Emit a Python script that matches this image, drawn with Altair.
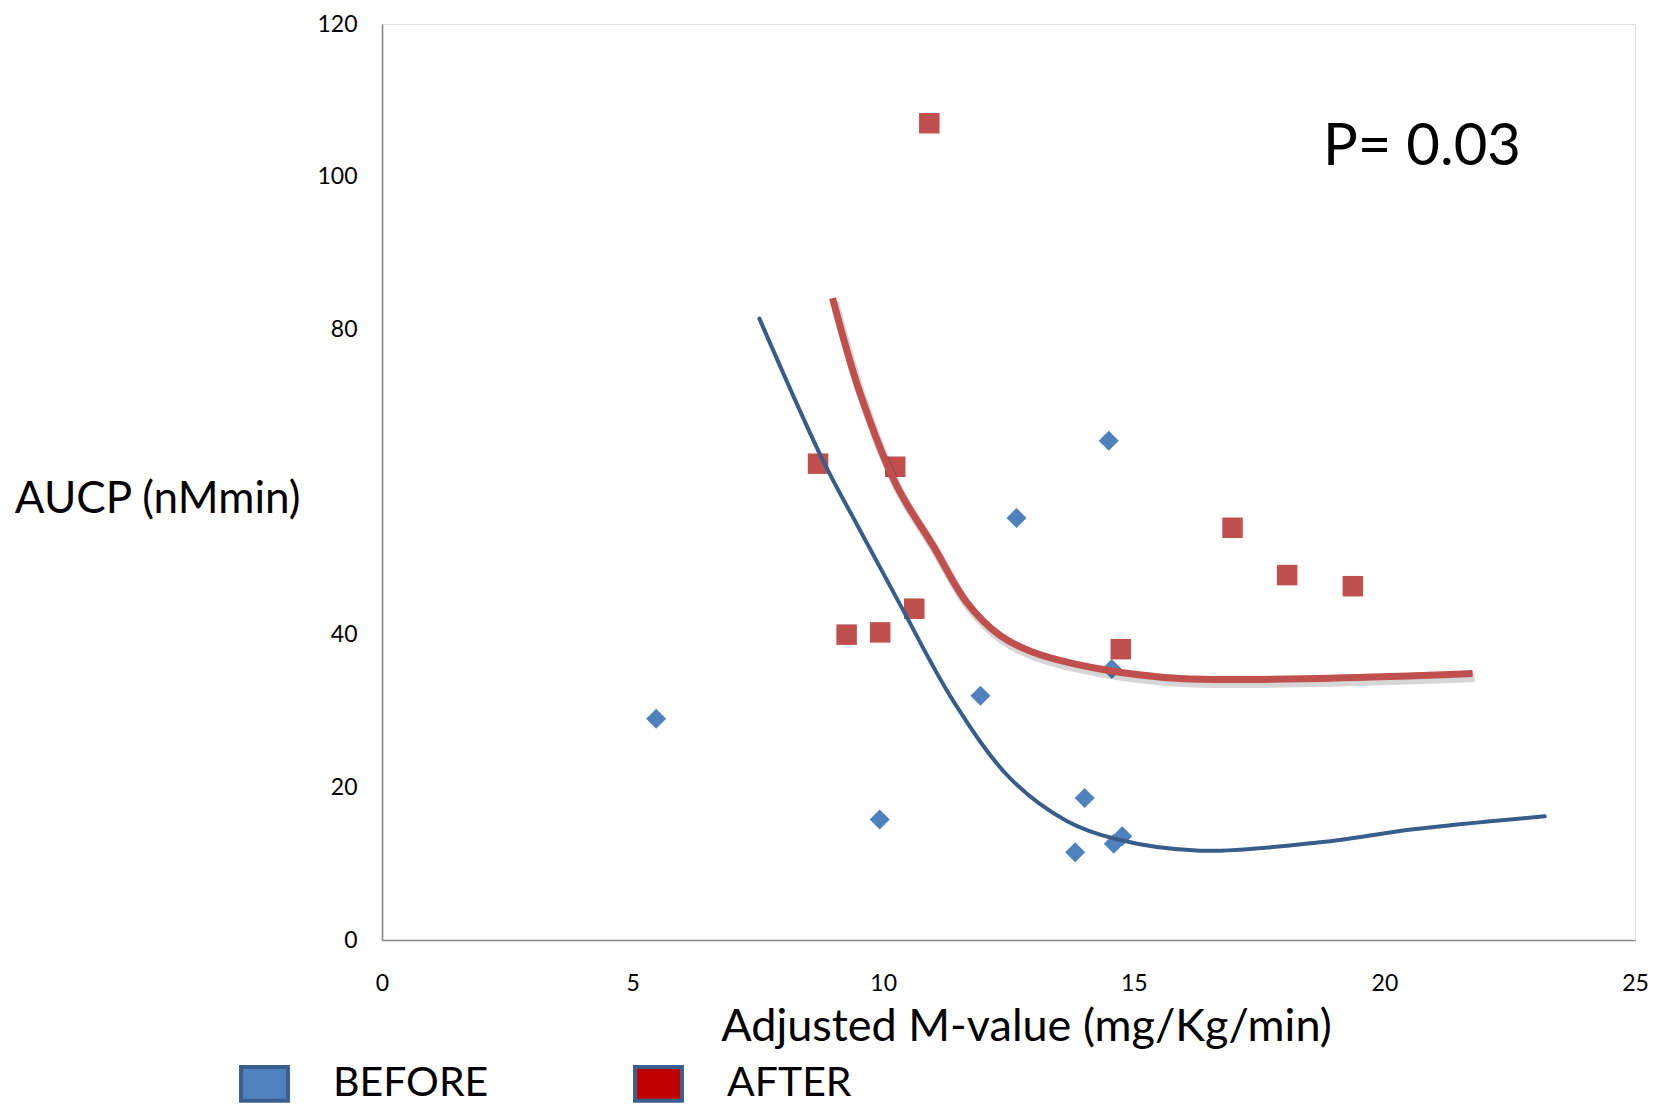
import altair as alt
import pandas as pd

# --- data ---
before_x = [5.47, 9.93, 11.94, 12.66, 14.50, 14.56, 14.02, 13.83, 14.60, 14.77]
before_y = [29.0, 15.8, 32.0, 55.3, 65.4, 35.5, 18.6, 11.5, 12.6, 13.6]

after_x = [10.92, 8.70, 10.24, 16.97, 18.06, 19.37, 10.62, 9.27, 9.94, 14.74]
after_y = [107.0, 62.4, 62.0, 54.0, 47.8, 46.35, 43.4, 40.0, 40.3, 38.1]

before_trend_x = [7.53, 8.80, 9.47, 10.34, 11.40, 12.53, 13.66, 14.66, 16.32, 18.72, 20.58, 23.20]
before_trend_y = [81.4, 62.8, 54.5, 43.9, 31.3, 21.2, 15.6, 13.2, 11.7, 12.8, 14.5, 16.2]

after_trend_x = [8.99, 9.54, 10.27, 11.00, 11.67, 12.33, 12.99, 14.33, 15.93, 18.91, 21.76]
after_trend_y = [84.1, 71.6, 59.5, 51.6, 44.2, 39.9, 37.7, 35.5, 34.25, 34.3, 34.9]

series_names = ["BEFORE", "AFTER"]
p_label = ["P= 0.03"]
p_x = [20.75]
p_y = [101.5]

y_tick_values = [0, 20, 40, 80, 100, 120]
x_tick_values = [0, 5, 10, 15, 20, 25]

FONT = "Lato"

df_before = pd.DataFrame({"x": before_x, "y": before_y})
df_after = pd.DataFrame({"x": after_x, "y": after_y})
df_bt = pd.DataFrame({"x": before_trend_x, "y": before_trend_y})
df_at = pd.DataFrame({"x": after_trend_x, "y": after_trend_y})
df_legend = pd.DataFrame({"series": series_names, "x": [0, 0], "y": [0, 0]})
df_p = pd.DataFrame({"label": p_label, "x": p_x, "y": p_y})

xscale = alt.Scale(domain=[0, 25], nice=False, zero=True)
yscale = alt.Scale(domain=[0, 120], nice=False, zero=True)

xaxis = alt.Axis(
    values=x_tick_values, grid=False, ticks=False, labelPadding=32, labelFlush=False,
    labelFontSize=23, labelFont=FONT, labelColor="#000000",
    domainColor="#868686", domainWidth=1.6,
    title="Adjusted M-value (mg/Kg/min)", titleFont=FONT, titleFontSize=45,
    titleFontWeight="normal", titleColor="#000000",
    titleX=644, titleY=100, titleAlign="center", titleBaseline="alphabetic",
)
yaxis = alt.Axis(
    values=y_tick_values, grid=False, ticks=False, labelPadding=25, labelFlush=False,
    labelFontSize=23, labelFont=FONT, labelColor="#000000",
    domainColor="#868686", domainWidth=1.6,
    title="AUCP (nMmin)", titleFont=FONT, titleFontSize=44,
    titleFontWeight="normal", titleColor="#000000", titleAngle=0,
    titleX=-82, titleY=488, titleAlign="right", titleBaseline="alphabetic",
)

X = alt.X("x:Q", scale=xscale, axis=xaxis)
Y = alt.Y("y:Q", scale=yscale, axis=yaxis)
Xn = alt.X("x:Q", scale=xscale)
Yn = alt.Y("y:Q", scale=yscale)

legend_layer = alt.Chart(df_legend).mark_point(filled=True, opacity=0).encode(
    x=X, y=Y,
    color=alt.Color(
        "series:N",
        scale=alt.Scale(domain=series_names, range=["#4f81bd", "#c00000"]),
        legend=alt.Legend(
            title=None, orient="none", direction="horizontal",
            legendX=-143, legendY=1034, padding=0,
            symbolType="M-1,-0.72H1V0.72H-1Z", symbolSize=2200,
            symbolOpacity=1, symbolStrokeColor="#3a5f8f", symbolStrokeWidth=4,
            labelFont=FONT, labelFontSize=41, labelColor="#000000",
            labelOffset=43, columnPadding=138, labelLimit=400,
        ),
    ),
)

after_shadow = alt.Chart(df_at).mark_line(
    interpolate="catmull-rom", color="#000000", opacity=0.16, strokeWidth=9,
    xOffset=2, yOffset=4, strokeCap="butt",
).encode(x=Xn, y=Yn)

after_line = alt.Chart(df_at).mark_line(
    interpolate="catmull-rom", color="#c0504d", strokeWidth=7, strokeCap="butt",
).encode(x=Xn, y=Yn)

before_line = alt.Chart(df_bt).mark_line(
    interpolate="catmull-rom", color="#385d8a", strokeWidth=4, strokeCap="round",
).encode(x=Xn, y=Yn)

before_pts = alt.Chart(df_before).mark_point(
    shape="diamond", filled=True, color="#4f81bd", opacity=1, size=400,
).encode(x=Xn, y=Yn)

after_pts = alt.Chart(df_after).mark_point(
    shape="square", filled=True, color="#c0504d", opacity=1, size=420,
).encode(x=Xn, y=Yn)

p_text = alt.Chart(df_p).mark_text(
    font=FONT, fontSize=58, color="#000000", align="center", baseline="alphabetic",
).encode(x=Xn, y=Yn, text="label:N")

chart = alt.layer(
    legend_layer, before_pts, after_pts, before_line, after_shadow, after_line, p_text
).properties(
    width=1253, height=916,
    autosize=alt.AutoSizeParams(type="none"),
    padding={"left": 374, "top": 16, "right": 24, "bottom": 165},
).configure_view(stroke=None).configure(background="#ffffff")

chart.save("out.html", embed_options={"renderer": "svg", "actions": False})
